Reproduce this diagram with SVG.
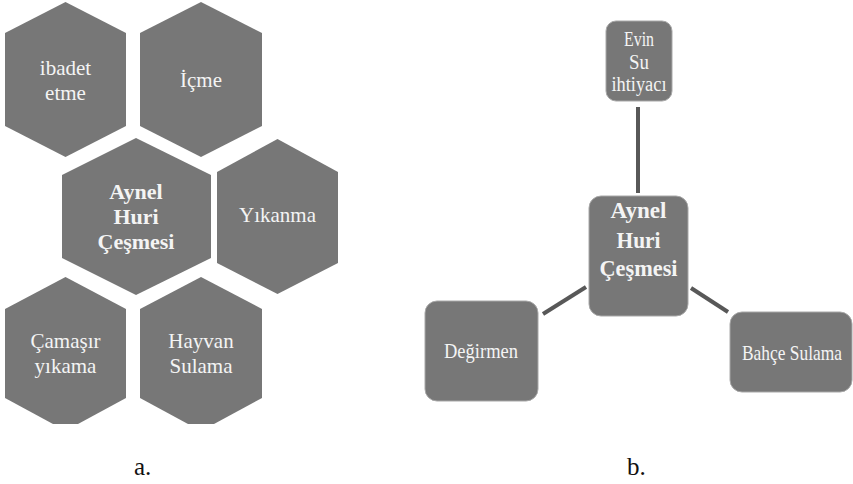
<svg xmlns="http://www.w3.org/2000/svg" width="853" height="484" viewBox="0 0 853 484">
  <style>
    .hex { fill: #777777; }
    .box { fill: #777777; stroke: #a8a8a8; stroke-width: 1; }
    .t { font-family: 'Liberation Serif', Tinos, 'Times New Roman', 'DejaVu Serif', serif; fill: #f4f4f4; text-anchor: middle; }
    .r { font-size: 21px; }
    .b { font-size: 22px; font-weight: bold; }
    .cap { font-family: 'Liberation Serif', Tinos, 'Times New Roman', 'DejaVu Serif', serif; font-size: 25px; fill: #111111; }
    .link { stroke: #585858; stroke-width: 4; fill: none; }
  </style>

  <rect width="853" height="484" fill="#ffffff"/>

  <!-- panel a: hexagon cluster -->
  <g id="hex-ibadet">
    <polygon class="hex" points="65.5,2 126,33 126,126 65.5,157 5,126 5,33"/>
    <text class="t r" x="65.5" y="75">ibadet</text>
    <text class="t r" x="65.5" y="100">etme</text>
  </g>
  <g id="hex-icme">
    <polygon class="hex" points="201,2 262,33 262,126 201,157 140,126 140,33"/>
    <text class="t r" x="201" y="87">İçme</text>
  </g>
  <g id="hex-center">
    <polygon class="hex" points="136,138 211,175 211,258 136,295 62,258 62,175"/>
    <text class="t b" x="136" y="199">Aynel</text>
    <text class="t b" x="136" y="224">Huri</text>
    <text class="t b" x="136" y="249">Çeşmesi</text>
  </g>
  <g id="hex-yikanma">
    <polygon class="hex" points="277.5,139 338,172 338,263 277.5,294 217,263 217,172"/>
    <text class="t r" x="277.5" y="222">Yıkanma</text>
  </g>
  <g id="hex-camasir">
    <polygon class="hex" points="65.5,277 126,309 126,398 78,424 53,424 5,398 5,309"/>
    <text class="t r" x="65.5" y="348">Çamaşır</text>
    <text class="t r" x="65.5" y="373">yıkama</text>
  </g>
  <g id="hex-hayvan">
    <polygon class="hex" points="201,277 262,309 262,398 214,424 188,424 140,398 140,309"/>
    <text class="t r" x="201" y="348">Hayvan</text>
    <text class="t r" x="201" y="373">Sulama</text>
  </g>

  <!-- panel b: connectors -->
  <g id="connectors">
    <line class="link" x1="638" y1="107" x2="638" y2="193"/>
    <line class="link" x1="543" y1="314" x2="586" y2="287"/>
    <line class="link" x1="691" y1="288" x2="728" y2="312"/>
  </g>

  <!-- panel b: nodes -->
  <g id="node-evin">
    <rect class="box" x="606" y="21" width="66" height="80" rx="10"/>
    <text class="t" font-size="20" x="639" y="46" textLength="30" lengthAdjust="spacingAndGlyphs">Evin</text>
    <text class="t" font-size="20" x="639" y="69" textLength="20" lengthAdjust="spacingAndGlyphs">Su</text>
    <text class="t" font-size="20" x="639" y="91" textLength="55" lengthAdjust="spacingAndGlyphs">ihtiyacı</text>
  </g>
  <g id="node-center">
    <rect class="box" x="589" y="196" width="99" height="120" rx="12"/>
    <text class="t" font-size="24" font-weight="bold" x="638.5" y="218" textLength="56" lengthAdjust="spacingAndGlyphs">Aynel</text>
    <text class="t" font-size="24" font-weight="bold" x="638.5" y="248" textLength="44" lengthAdjust="spacingAndGlyphs">Huri</text>
    <text class="t" font-size="24" font-weight="bold" x="638.5" y="276" textLength="78" lengthAdjust="spacingAndGlyphs">Çeşmesi</text>
  </g>
  <g id="node-degirmen">
    <rect class="box" x="425" y="301" width="113" height="100" rx="12"/>
    <text class="t" font-size="21" x="481" y="358" textLength="74" lengthAdjust="spacingAndGlyphs">Değirmen</text>
  </g>
  <g id="node-bahce">
    <rect class="box" x="730" y="312" width="122" height="80" rx="12"/>
    <text class="t" font-size="21" x="792" y="360" textLength="100" lengthAdjust="spacingAndGlyphs">Bahçe Sulama</text>
  </g>

  <!-- panel captions -->
  <text class="cap" x="134" y="475">a.</text>
  <text class="cap" x="627" y="475">b.</text>
</svg>
